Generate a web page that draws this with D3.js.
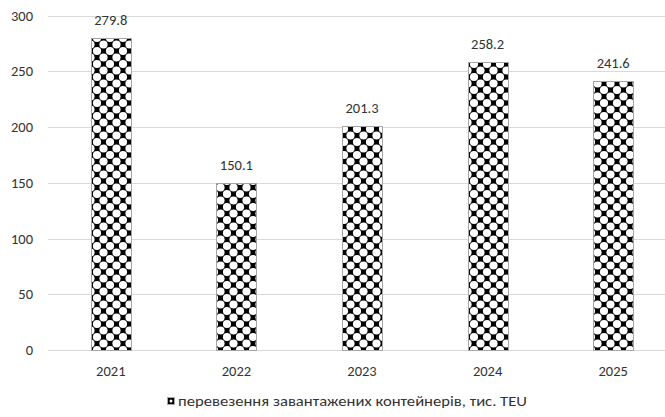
<!DOCTYPE html>
<html>
<head>
<meta charset="utf-8">
<script src="https://cdn.jsdelivr.net/npm/d3@7"></script>
<style>
  body { margin: 0; background: #fff; }
  svg text { font-family: Carlito, Calibri, Lato, "Open Sans", sans-serif; fill: #333; }
</style>
</head>
<body>
<div id="chart"></div>
<script>
const years = ["2021", "2022", "2023", "2024", "2025"];
const values = [279.8, 150.1, 201.3, 258.2, 241.6];
const yTicks = [0, 50, 100, 150, 200, 250, 300];
const seriesName = "перевезення завантажених контейнерів, тис. TEU";

const width = 665, height = 417;
const svg = d3.select("#chart").append("svg")
  .attr("width", width)
  .attr("height", height);

// fill pattern: black with white round blobs on a diagonal lattice
const tile = 13;
const defs = svg.append("defs");
const pat = defs.append("pattern")
  .attr("id", "blobs")
  .attr("patternUnits", "userSpaceOnUse")
  .attr("x", 97)
  .attr("y", 38)
  .attr("width", tile)
  .attr("height", tile);
pat.append("rect").attr("width", tile).attr("height", tile).attr("fill", "#000");
[[0, 0], [tile, 0], [0, tile], [tile, tile], [tile / 2, tile / 2]].forEach(([cx, cy]) => {
  pat.append("circle").attr("cx", cx).attr("cy", cy).attr("r", 4.1).attr("fill", "#fff");
});

const x = d3.scaleBand().domain(years).range([48, 676]).paddingInner(0.68).paddingOuter(0.34);
const y = d3.scaleLinear().domain([0, 300]).range([350, 15.5]);

// gridlines
svg.append("g")
  .selectAll("line")
  .data(yTicks)
  .enter()
  .append("line")
  .attr("x1", 48)
  .attr("x2", 676)
  .attr("y1", d => Math.round(y(d)) + 0.5)
  .attr("y2", d => Math.round(y(d)) + 0.5)
  .attr("stroke", "#d9d9d9")
  .attr("stroke-width", 1);

// y labels
svg.append("g")
  .selectAll("text")
  .data(yTicks)
  .enter()
  .append("text")
  .attr("x", 33)
  .attr("y", d => y(d))
  .attr("dy", "0.35em")
  .attr("text-anchor", "end")
  .attr("font-size", 14.5)
  .text(d => d);

// bars
const bw = 40;
svg.append("g")
  .selectAll("rect")
  .data(values)
  .enter()
  .append("rect")
  .attr("x", (d, i) => Math.round(x(years[i]) + x.bandwidth() / 2 - bw / 2) + 0.5)
  .attr("y", d => Math.round(y(d)) + 0.5)
  .attr("width", bw)
  .attr("height", d => Math.round(y(0)) - Math.round(y(d)))
  .attr("fill", "url(#blobs)")
  .attr("stroke", "#a6a6a6")
  .attr("stroke-width", 1);

// value labels
svg.append("g")
  .selectAll("text")
  .data(values)
  .enter()
  .append("text")
  .attr("x", (d, i) => x(years[i]) + x.bandwidth() / 2)
  .attr("y", d => y(d) - 13)
  .attr("text-anchor", "middle")
  .attr("font-size", 14.5)
  .text(d => d.toFixed(1));

// x labels
svg.append("g")
  .selectAll("text")
  .data(years)
  .enter()
  .append("text")
  .attr("x", d => x(d) + x.bandwidth() / 2)
  .attr("y", 376)
  .attr("text-anchor", "middle")
  .attr("font-size", 14.5)
  .text(d => d);

// legend
const legend = svg.append("g");
legend.append("rect")
  .attr("x", 167.5)
  .attr("y", 397.5)
  .attr("width", 7)
  .attr("height", 7)
  .attr("fill", "#000")
  .attr("stroke", "#a6a6a6");
legend.append("circle")
  .attr("cx", 171)
  .attr("cy", 401)
  .attr("r", 1.5)
  .attr("fill", "#fff");
legend.append("text")
  .attr("x", 178)
  .attr("y", 401)
  .attr("dy", "0.35em")
  .attr("font-size", 14)
  .attr("textLength", 349)
  .attr("lengthAdjust", "spacingAndGlyphs")
  .text(seriesName);
</script>
</body>
</html>
